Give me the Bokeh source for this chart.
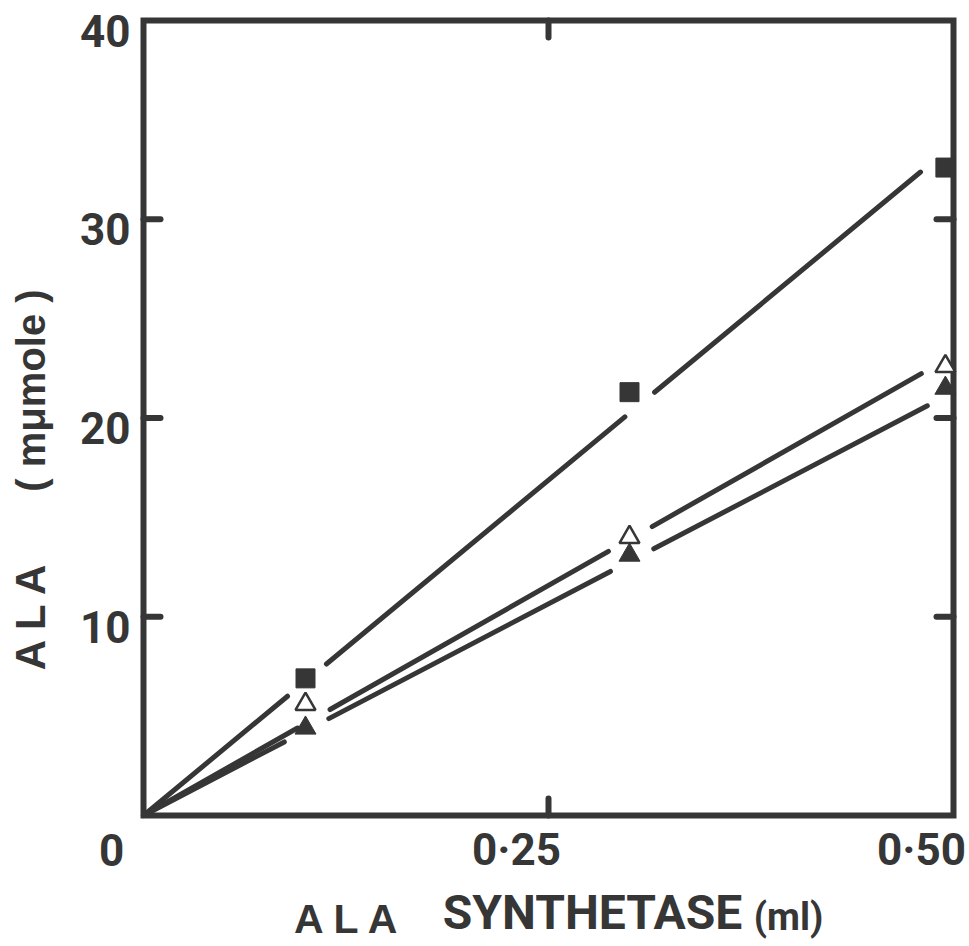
import numpy as np
from bokeh.plotting import figure
from bokeh.models import Range1d, ColumnDataSource
from bokeh.core.properties import value
from bokeh.embed import file_html
from bokeh.resources import INLINE

# ---------------- data ----------------
enzyme_ml = [0.10, 0.30, 0.495]          # ALA synthetase (ml)
ala_square = [6.9, 21.3, 32.6]           # filled squares
ala_open_tri = [5.6, 14.0, 22.6]         # open triangles
ala_filled_tri = [4.4, 13.1, 21.5]       # filled triangles
fit_slope = [67.5, 46.3, 42.6]           # drawn lines through the origin (mumole per ml)

x_lim = [0, 0.5]
y_lim = [0, 40]
x_ticks = [0, 0.25, 0.5]
x_tick_labels = ["0", "0·25", "0·50"]
y_ticks = [10, 20, 30, 40]
y_tick_labels = ["10", "20", "30", "40"]
inner_x_ticks = [0.25]
inner_y_ticks = [10, 20, 30]

# ---------------- geometry / style ----------------
W, H = 969, 946
BL, BR, BT, BB = 143, 16, 20, 131          # where the drawn box sits in the page
kx = (W - BL - BR) / (x_lim[1] - x_lim[0])
ky = (H - BT - BB) / (y_lim[1] - y_lim[0])
INK = "#363636"
NUM_FONT = "Roboto"
TXT_FONT = "Liberation Sans"
TICK = 17


def px_x(px):
    return x_lim[0] + (px - BL) / kx


def px_y(py):
    return y_lim[0] + (H - BB - py) / ky


p = figure(width=W, height=H,
           x_range=Range1d(px_x(0), px_x(W)), y_range=Range1d(px_y(H), px_y(0)),
           output_backend="svg", toolbar_location=None,
           x_axis_location=None, y_axis_location=None,
           min_border_left=0, min_border_right=0, min_border_top=0, min_border_bottom=0)
p.grid.visible = False
p.outline_line_color = None
p.background_fill_color = "white"
p.border_fill_color = "white"


# ---------------- broken fitted lines ----------------
def broken_line(slope, xs, ys, r=25):
    xx = np.linspace(0, max(xs), 2000)
    yy = slope * xx
    keep = np.ones(len(xx), bool)
    for x0, y0 in zip(xs, ys):
        keep &= np.hypot((xx - x0) * kx, (yy - y0) * ky) > r
    segx, segy = [], []
    start = None
    for i, k in enumerate(keep):
        if k and start is None:
            start = i
        if (not k or i == len(keep) - 1) and start is not None:
            end = i if k else i - 1
            if end > start:
                segx.append([xx[start], xx[end]])
                segy.append([yy[start], yy[end]])
            start = None
    return segx, segy


series = [ala_square, ala_open_tri, ala_filled_tri]
for slope, ys in zip(fit_slope, series):
    sx, sy = broken_line(slope, enzyme_ml, ys)
    p.multi_line(sx, sy, line_color=INK, line_width=5, line_cap="round")

# ---------------- frame box and inner ticks ----------------
p.quad(left=[x_lim[0]], right=[x_lim[1]], bottom=[y_lim[0]], top=[y_lim[1]],
       fill_color=None, line_color=INK, line_width=6, line_join="miter")
tick_dx = TICK / kx
tick_dy = TICK / ky
p.segment(x0=[x_lim[0]] * len(inner_y_ticks), y0=inner_y_ticks,
          x1=[x_lim[0] + tick_dx] * len(inner_y_ticks), y1=inner_y_ticks,
          line_color=INK, line_width=6, line_cap="round")
p.segment(x0=[x_lim[1]] * len(inner_y_ticks), y0=inner_y_ticks,
          x1=[x_lim[1] - tick_dx] * len(inner_y_ticks), y1=inner_y_ticks,
          line_color=INK, line_width=6, line_cap="round")
p.segment(x0=inner_x_ticks, y0=[y_lim[0]] * len(inner_x_ticks),
          x1=inner_x_ticks, y1=[y_lim[0] + tick_dy] * len(inner_x_ticks),
          line_color=INK, line_width=6, line_cap="round")
p.segment(x0=inner_x_ticks, y0=[y_lim[1]] * len(inner_x_ticks),
          x1=inner_x_ticks, y1=[y_lim[1] - tick_dy] * len(inner_x_ticks),
          line_color=INK, line_width=6, line_cap="round")

# ---------------- markers ----------------
p.scatter(enzyme_ml, ala_square, marker="square", size=19, fill_color=INK, line_color=INK)
p.scatter(enzyme_ml, ala_open_tri, marker="triangle", size=20, fill_color="white",
          line_color=INK, line_width=2.5)
p.scatter(enzyme_ml, ala_filled_tri, marker="triangle", size=21, fill_color=INK,
          line_color=INK, line_width=1)

# ---------------- tick labels ----------------
ysrc = ColumnDataSource(dict(x=[x_lim[0]] * len(y_ticks), y=y_ticks, t=y_tick_labels))
p.text(x="x", y="y", text="t", source=ysrc, x_offset=-13, y_offset=10,
       text_align="right", text_baseline="middle", text_font=value(NUM_FONT),
       text_font_size="44px", text_font_style="bold", text_color=INK)
xsrc = ColumnDataSource(dict(x=x_ticks, y=[y_lim[0]] * len(x_ticks), t=x_tick_labels))
p.text(x="x", y="y", text="t", source=xsrc, x_offset=-32, y_offset=34,
       text_align="center", text_baseline="middle", text_font=value(NUM_FONT),
       text_font_size="44px", text_font_style="bold", text_color=INK)

# ---------------- axis titles ----------------
p.text(x=[px_x(347)], y=[px_y(918)], text=["A L A"], text_align="center",
       text_baseline="middle", text_font=value(TXT_FONT), text_font_size="41px",
       text_font_style="bold", text_color=INK)
p.text(x=[px_x(592)], y=[px_y(912)], text=["SYNTHETASE"], text_align="center",
       text_baseline="middle", text_font=value(NUM_FONT), text_font_size="48px",
       text_font_style="bold", text_color=INK)
p.text(x=[px_x(788)], y=[px_y(916)], text=["(ml)"], text_align="center",
       text_baseline="middle", text_font=value(NUM_FONT), text_font_size="38px",
       text_font_style="bold", text_color=INK)
p.text(x=[px_x(30)], y=[px_y(615)], text=["A L A"], angle=np.pi / 2,
       text_align="center", text_baseline="middle", text_font=value(TXT_FONT),
       text_font_size="42px", text_font_style="bold", text_color=INK)
p.text(x=[px_x(30)], y=[px_y(390)], text=["( mμmole )"], angle=np.pi / 2,
       text_align="center", text_baseline="middle", text_font=value(TXT_FONT),
       text_font_size="40px", text_font_style="bold", text_color=INK)

open("out.html", "w").write(file_html(p, INLINE))
